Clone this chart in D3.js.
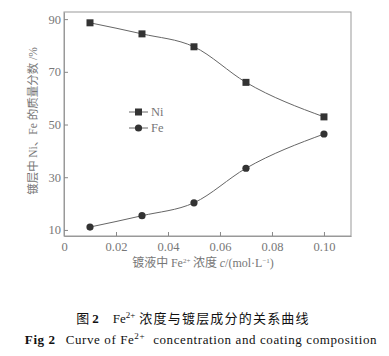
<!DOCTYPE html>
<html><head><meta charset="utf-8">
<script src="https://cdn.jsdelivr.net/npm/d3@7"></script>
<style>
body{margin:0;background:#fff;}
svg{display:block;}
</style></head>
<body><svg id="c" width="389" height="356"></svg>
<script>
const concentrations = [0.01, 0.03, 0.05, 0.07, 0.10];
const niValues = [88.6, 84.4, 79.5, 66.0, 52.9];
const feValues = [11.1, 15.4, 20.3, 33.4, 46.4];
const xTicks = [0, 0.02, 0.04, 0.06, 0.08, 0.10];
const yTicks = [10, 30, 50, 70, 90];
const seriesNames = ["Ni", "Fe"];

const SERIF = "'Liberation Serif','DejaVu Serif',serif";
const CJK = "'Noto Sans CJK SC',sans-serif";
const svg = d3.select("#c").style("font-family", SERIF);
const L = 64, R = 351, T = 12, B = 236;
const x = d3.scaleLinear().domain([0, 0.1104]).range([L, R]);
const y = d3.scaleLinear().domain([7.7, 92.7]).range([B, T]);
const axisCol = "#888", textCol = "#777";

svg.append("rect").attr("x", L).attr("y", T).attr("width", R - L).attr("height", B - T)
  .attr("fill", "none").attr("stroke", "#999").attr("stroke-width", 1);

const xa = svg.append("g").attr("transform", `translate(0,${B})`)
  .call(d3.axisBottom(x).tickValues(xTicks).tickSizeInner(-4).tickSizeOuter(0)
    .tickFormat((d) => d === 0 ? "0" : d3.format(".2f")(d)));
const ya = svg.append("g").attr("transform", `translate(${L},0)`)
  .call(d3.axisLeft(y).tickValues(yTicks).tickSizeInner(-4).tickSizeOuter(0));
[xa, ya].forEach(g => {
  g.attr("font-family", null);
  g.select(".domain").attr("stroke", "#999");
  g.selectAll(".tick line").attr("stroke", axisCol);
  g.selectAll("text").attr("fill", textCol).style("font-size", "12.5px")
    .style("font-family", SERIF);
});
xa.selectAll("text").attr("dy", "0.9em").attr("y", 4);
ya.selectAll("text").attr("x", -3);

const line = d3.line().x(d => x(d[0])).y(d => y(d[1])).curve(d3.curveMonotoneX);
const niData = concentrations.map((c, i) => [c, niValues[i]]);
const feData = concentrations.map((c, i) => [c, feValues[i]]);
[niData, feData].forEach(dat => {
  svg.append("path").attr("d", line(dat)).attr("fill", "none")
    .attr("stroke", "#666").attr("stroke-width", 1);
});
svg.selectAll(".ni").data(niData).enter().append("rect")
  .attr("x", d => x(d[0]) - 3.5).attr("y", d => y(d[1]) - 3.5)
  .attr("width", 7).attr("height", 7).attr("fill", "#333");
svg.selectAll(".fe").data(feData).enter().append("circle")
  .attr("cx", d => x(d[0])).attr("cy", d => y(d[1])).attr("r", 3.6).attr("fill", "#333");

const lg = svg.append("g");
seriesNames.forEach((n, i) => {
  const ly = 112 + i * 16;
  lg.append("line").attr("x1", 129).attr("x2", 148).attr("y1", ly).attr("y2", ly)
    .attr("stroke", "#666");
  if (i === 0) lg.append("rect").attr("x", 135).attr("y", ly - 3.5).attr("width", 7).attr("height", 7).attr("fill", "#333");
  else lg.append("circle").attr("cx", 138.5).attr("cy", ly).attr("r", 3.6).attr("fill", "#333");
  lg.append("text").attr("x", 151).attr("y", ly + 4).style("font-size", "12.5px").attr("fill", textCol).text(n);
});

const xt = svg.append("text").attr("x", 203).attr("y", 267).attr("text-anchor", "middle")
  .style("font-size", "12px").attr("fill", textCol);
xt.append("tspan").style("font-family", CJK).text("镀液中 ");
xt.append("tspan").text("Fe");
xt.append("tspan").style("font-size", "7px").attr("dy", -4).text("2+");
xt.append("tspan").attr("dy", 4).style("font-family", CJK).text(" 浓度 ");
xt.append("tspan").style("font-style", "italic").text("c");
xt.append("tspan").text("/(mol·L");
xt.append("tspan").style("font-size", "7px").attr("dy", -4).text("−1");
xt.append("tspan").attr("dy", 4).text(")");

const yt = svg.append("text").attr("transform", "translate(37,121) rotate(-90)")
  .attr("text-anchor", "middle").style("font-size", "11.5px").attr("fill", textCol);
yt.append("tspan").style("font-family", CJK).text("镀层中 ");
yt.append("tspan").text("Ni");
yt.append("tspan").style("font-family", CJK).text("、");
yt.append("tspan").text("Fe ");
yt.append("tspan").style("font-family", CJK).text("的质量分数");
yt.append("tspan").text(" /%");

const c1 = svg.append("text").attr("x", 193).attr("y", 323).attr("text-anchor", "middle")
  .style("font-size", "13px").attr("fill", "#111");
c1.append("tspan").style("font-family", CJK).text("图 ");
c1.append("tspan").style("font-weight", "bold").text("2");
c1.append("tspan").attr("dx", 14).text("Fe");
c1.append("tspan").style("font-size", "9px").attr("dy", -5).text("2+");
c1.append("tspan").attr("dy", 5).style("font-family", CJK).style("letter-spacing", "1.2px").text(" 浓度与镀层成分的关系曲线");

const c2 = svg.append("text").attr("x", 201).attr("y", 344).attr("text-anchor", "middle")
  .style("font-size", "13px").attr("fill", "#111").style("letter-spacing", "0.6px");
c2.append("tspan").style("font-weight", "bold").text("Fig 2");
c2.append("tspan").attr("dx", 10).text("Curve of Fe");
c2.append("tspan").style("font-size", "9px").attr("dy", -5).text("2+");
c2.append("tspan").attr("dy", 5).attr("dx", 8).text("concentration and coating composition");
</script></body></html>
